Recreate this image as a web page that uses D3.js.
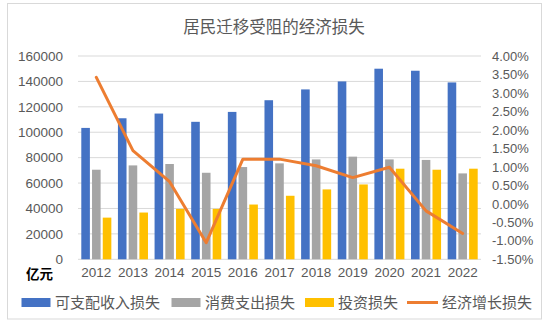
<!DOCTYPE html>
<html><head><meta charset="utf-8">
<script src="https://cdn.jsdelivr.net/npm/d3@7"></script>
<style>
body{margin:0;background:#fff;}
text{font-family:"Liberation Sans","Noto Sans CJK SC",Arial,sans-serif;}
</style></head>
<body><svg id="c" width="550" height="328"></svg>
<script>
const years = ["2012","2013","2014","2015","2016","2017","2018","2019","2020","2021","2022"];
const income = [103400,111000,114700,108200,116000,125200,133700,140000,150000,148400,139200];
const consumption = [70500,73900,75000,68100,72600,75500,78600,80800,78600,78200,67600];
const investment = [32800,36800,39700,39700,43100,50000,55000,58900,71300,70500,71300];
const growthLoss = [0.0342,0.0144,0.0060,-0.0105,0.0121,0.0121,0.0103,0.0071,0.0099,-0.0019,-0.0080];
const seriesNames = ["可支配收入损失","消费支出损失","投资损失","经济增长损失"];
const leftTicks = [0,20000,40000,60000,80000,100000,120000,140000,160000];
const rightTicks = [-0.015,-0.01,-0.005,0,0.005,0.01,0.015,0.02,0.025,0.03,0.035,0.04];
const colors = ["#4472C4","#A5A5A5","#FFC000","#ED7D31"];

const svg = d3.select("#c");
const L = 78, R = 481, T = 56, B = 259.3;

svg.append("rect").attr("x",7.5).attr("y",3.5).attr("width",534).attr("height",315.5)
  .attr("fill","#fff").attr("stroke","#D9D9D9").attr("stroke-width",1);

svg.append("text").attr("x",274).attr("y",33).attr("text-anchor","middle")
  .attr("font-size",16.5).attr("fill","#595959").text("居民迁移受阻的经济损失");

const x = d3.scaleBand().domain(years).range([L,R]).paddingInner(0.18).paddingOuter(0.09);
const xs = d3.scaleBand().domain([0,1,2]).range([0,x.bandwidth()]).paddingInner(0.2);
const y = d3.scaleLinear().domain([0,160000]).range([B,T]);
const y2 = d3.scaleLinear().domain([-0.015,0.04]).range([B,T]);

// gridlines
svg.append("g").selectAll("line").data(leftTicks).join("line")
  .attr("x1",L).attr("x2",R).attr("y1",d=>y(d)).attr("y2",d=>y(d))
  .attr("stroke","#D9D9D9").attr("stroke-width",1);

// left axis labels
const la = svg.append("g").attr("transform",`translate(${L-15},0)`)
  .call(d3.axisLeft(y).tickValues(leftTicks).tickSize(0).tickPadding(0).tickFormat(d3.format("d")));
la.select(".domain").remove();
la.selectAll("text").attr("font-size",13.5).attr("fill","#595959").attr("font-family",null);

// right axis
const fmt = d3.formatLocale({decimal:".",thousands:",",grouping:[3],currency:["",""],minus:"-",percent:"%"}).format(".2%");
const ra = svg.append("g").attr("transform",`translate(${R+11},0)`)
  .call(d3.axisRight(y2).tickValues(rightTicks).tickSize(0).tickPadding(0).tickFormat(fmt));
ra.select(".domain").remove();
ra.selectAll("text").attr("font-size",13).attr("fill","#595959").attr("font-family",null);

// x axis labels
const xa = svg.append("g").attr("transform",`translate(0,${B+8})`)
  .call(d3.axisBottom(x).tickSize(0).tickPadding(0));
xa.select(".domain").remove();
xa.selectAll("text").attr("font-size",13.5).attr("fill","#595959").attr("font-family",null);

svg.append("text").attr("x",26).attr("y",279).attr("font-size",13.5).attr("fill","#000")
  .attr("font-weight","bold").text("亿元");

// bars
const barSeries = [income, consumption, investment];
barSeries.forEach((vals,i)=>{
  svg.append("g").selectAll("rect").data(vals).join("rect")
    .attr("x",(d,j)=>x(years[j])+xs(i)).attr("width",xs.bandwidth())
    .attr("y",d=>y(d)).attr("height",d=>B-y(d)).attr("fill",colors[i]);
});

// line
const line = d3.line().x((d,j)=>x(years[j])+x.bandwidth()/2).y(d=>y2(d));
svg.append("path").datum(growthLoss).attr("d",line).attr("fill","none")
  .attr("stroke",colors[3]).attr("stroke-width",3).attr("stroke-linejoin","round").attr("stroke-linecap","round");

// legend
const leg = [{x:21.5,tx:55},{x:171.5,tx:205},{x:305,tx:338},{x:407,tx:442}];
leg.forEach((p,i)=>{
  if(i<3){
    svg.append("rect").attr("x",p.x).attr("y",298).attr("width",29).attr("height",9).attr("fill",colors[i]);
  } else {
    svg.append("line").attr("x1",p.x).attr("x2",p.x+31).attr("y1",302.5).attr("y2",302.5)
      .attr("stroke",colors[3]).attr("stroke-width",3);
  }
  svg.append("text").attr("x",p.tx).attr("y",308).attr("font-size",15).attr("fill","#595959").text(seriesNames[i]);
});
</script></body></html>
